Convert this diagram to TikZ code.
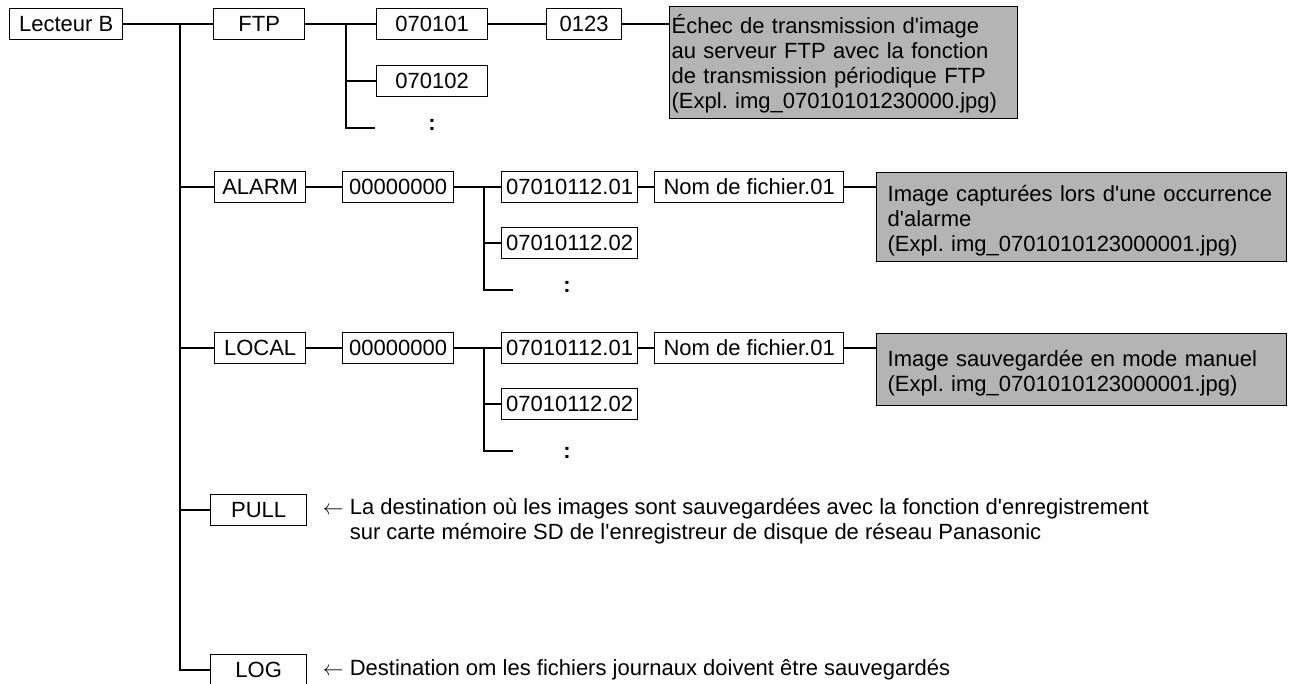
\documentclass[tikz,border=0pt]{standalone}
\usepackage{fontspec}
\setmainfont{Liberation Sans}[Ligatures=TeXOff]
\usepackage{tikz}
\definecolor{notegray}{RGB}{180,180,180}
\frenchspacing

\begin{document}
\begin{tikzpicture}[x=1pt,y=-1pt,line width=1.3pt,
    font=\fontsize{22}{25}\selectfont,
    folder/.style={draw,minimum height=31pt,inner xsep=3pt,inner ysep=0pt,anchor=west},
    note/.style={draw,fill=notegray,anchor=north west,align=left,inner ysep=0pt},
    more/.style={anchor=base,font=\fontsize{22}{25}\selectfont\bfseries}]
  \useasboundingbox (0,0) rectangle (1289,684);
  % FTP
  \node[folder,minimum width=113pt] (lecteur) at (9,24) {Lecteur B};
  \node[folder,minimum width=91pt] (ftp) at (213,24) {FTP};
  \node[folder,minimum width=111pt] (day1) at (376,24) {070101};
  \node[folder,minimum width=75pt] (hour) at (546,24) {0123};
  \node[folder,minimum width=111pt] (day2) at (376,81) {070102};
  \node[note,inner xsep=2pt,text width=344pt,text height=27pt,text depth=85pt] (ftpnote) at (669,6)
    {Échec de transmission d'image\\au serveur FTP avec la fonction\\de transmission périodique FTP\\(Expl. img\_07010101230000.jpg)};
  \node[more] (ftpdots) at (432,131) {:};
  % ALARM
  \node[folder,minimum width=91pt] (alarm) at (214,187) {ALARM};
  \node[folder,minimum width=111pt] (alarmdir) at (342,187) {00000000};
  \node[folder,minimum width=136pt] (alarmA) at (501,187) {07010112.01};
  \node[folder,minimum width=136pt] (alarmB) at (501,243) {07010112.02};
  \node[folder,minimum width=189pt] (alarmfile) at (654,187) {Nom de fichier.01};
  \node[note,inner xsep=11pt,text width=388pt,text height=29pt,text depth=60pt] (alarmnote) at (876,172)
    {Image capturées lors d'une occurrence\\d'alarme\\(Expl. img\_0701010123000001.jpg)};
  \node[more] (alarmdots) at (567,293) {:};
  % LOCAL
  \node[folder,minimum width=91pt] (local) at (214,348) {LOCAL};
  \node[folder,minimum width=111pt] (localdir) at (342,348) {00000000};
  \node[folder,minimum width=136pt] (localA) at (501,348) {07010112.01};
  \node[folder,minimum width=136pt] (localB) at (501,404) {07010112.02};
  \node[folder,minimum width=189pt] (localfile) at (654,348) {Nom de fichier.01};
  \node[note,inner xsep=11pt,text width=388pt,text height=33pt,text depth=39pt] (localnote) at (876,333)
    {Image sauvegardée en mode manuel\\(Expl. img\_0701010123000001.jpg)};
  \node[more] (localdots) at (567,458) {:};
  % PULL, LOG
  \node[folder,minimum width=96pt] (pull) at (210,510) {PULL};
  \node[anchor=base west,align=left] (pulltext) at (319,539)
    {$\leftarrow$ La destination où les images sont sauvegardées avec la fonction d'enregistrement\\\phantom{$\leftarrow$ }sur carte mémoire SD de l'enregistreur de disque de réseau Panasonic};
  \node[folder,minimum width=96pt] (log) at (210,670) {LOG};
  \node[anchor=base west] (logtext) at (319,675)
    {$\leftarrow$ Destination om les fichiers journaux doivent être sauvegardés};

  \coordinate (trunk) at (180,24);
  \coordinate (ftpfork) at (346,24);
  \coordinate (ftpend) at (375,128);
  \coordinate (alarmfork) at (484,187);
  \coordinate (alarmend) at (513,290);
  \coordinate (localfork) at (484,348);
  \coordinate (localend) at (513,451);

  \draw (lecteur) -- (ftp);
  \draw (trunk) |- (log.west);
  \draw (trunk |- alarm.west) -- (alarm.west);
  \draw (trunk |- local.west) -- (local.west);
  \draw (trunk |- pull.west) -- (pull.west);

  \draw (ftp) -- (day1);
  \draw (day1) -- (hour);
  \draw (hour.east) -- (hour.east -| ftpnote.west);
  \draw (ftpfork) |- (ftpend);
  \draw (ftpfork |- day2.west) -- (day2.west);

  \draw (alarm) -- (alarmdir);
  \draw (alarmdir) -- (alarmA);
  \draw (alarmA) -- (alarmfile);
  \draw (alarmfile.east) -- (alarmfile.east -| alarmnote.west);
  \draw (alarmfork) |- (alarmend);
  \draw (alarmfork |- alarmB.west) -- (alarmB.west);

  \draw (local) -- (localdir);
  \draw (localdir) -- (localA);
  \draw (localA) -- (localfile);
  \draw (localfile.east) -- (localfile.east -| localnote.west);
  \draw (localfork) |- (localend);
  \draw (localfork |- localB.west) -- (localB.west);
\end{tikzpicture}
\end{document}
